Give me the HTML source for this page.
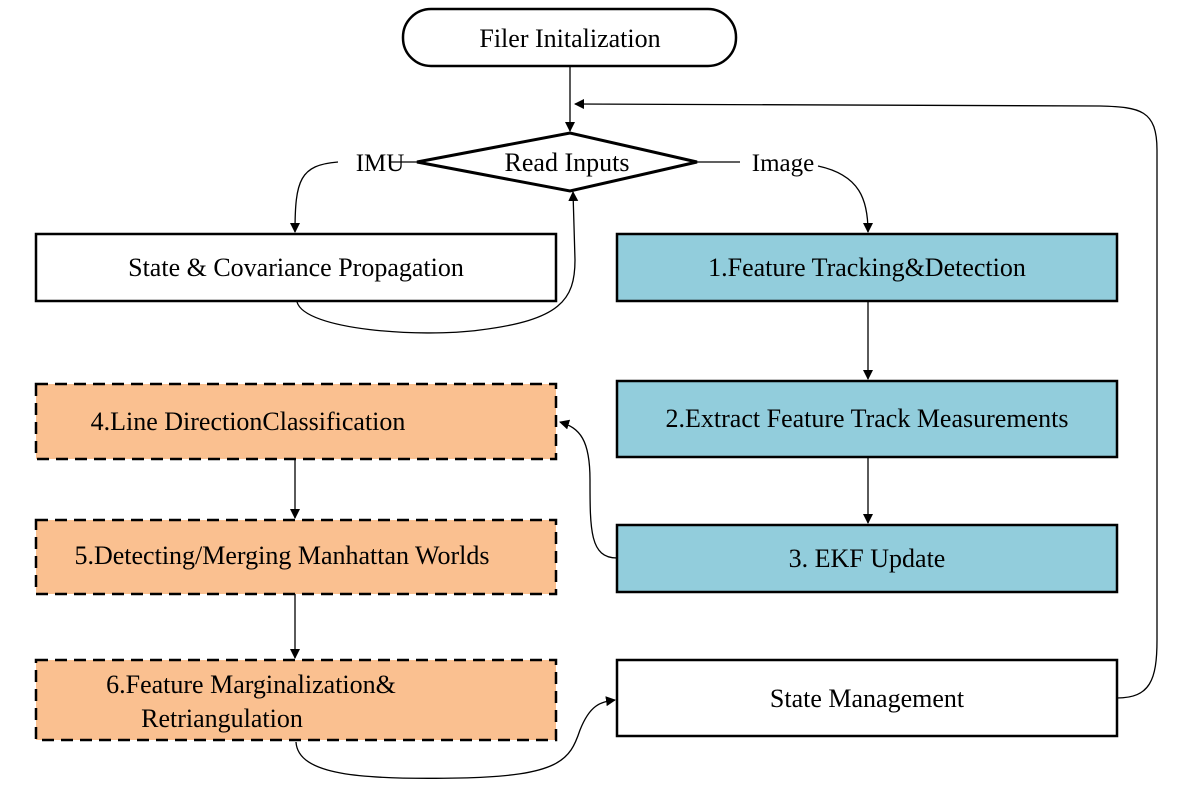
<!DOCTYPE html>
<html><head><meta charset="utf-8"><style>
html,body{margin:0;padding:0;background:#fff;}
svg{display:block;}
text{font-family:"Liberation Serif",serif;font-size:26px;fill:#000;}
</style></head><body>
<svg width="1188" height="789" viewBox="0 0 1188 789" xmlns="http://www.w3.org/2000/svg">
<defs>
<marker id="a" markerWidth="10" markerHeight="10" refX="9" refY="5" orient="auto" markerUnits="userSpaceOnUse" viewBox="0 0 10 10">
<path d="M0,0 L10,5 L0,10 z" fill="#000"/></marker>
</defs>
<g fill="none" stroke="#000" stroke-width="1.3">
<line x1="570" y1="66" x2="570" y2="131" marker-end="url(#a)" />
<path d="M1117,698 C1150,698 1157,680 1157,640 L1157,150 C1157,110 1140,107 1100,106 L575,104" marker-end="url(#a)"/>
<path d="M417,162 L390,162 M338,162 C300,165 295,180 295,232" marker-end="url(#a)"/>
<path d="M697,162 L740,162 M818,166 C860,175 868,200 868,232" marker-end="url(#a)"/>
<path d="M297,302 C305,330 420,338 480,330 C560,320 575,300 575,260 L573,192" marker-end="url(#a)"/>
<line x1="868" y1="301" x2="868" y2="379" marker-end="url(#a)"/>
<line x1="868" y1="457" x2="868" y2="523" marker-end="url(#a)"/>
<path d="M617,558 C590,558 590,530 590,480 C590,440 580,428 560,422" marker-end="url(#a)"/>
<line x1="295" y1="459" x2="295" y2="518" marker-end="url(#a)"/>
<line x1="295" y1="594" x2="295" y2="658" marker-end="url(#a)"/>
<path d="M296,742 C298,775 360,780 460,778 C560,776 570,760 580,730 C590,705 600,702 615,700" marker-end="url(#a)"/>
</g>
<rect x="403" y="9" width="333" height="57" rx="28" fill="#fff" stroke="#000" stroke-width="2.5"/>
<text x="570" y="47" text-anchor="middle">Filer Initalization</text>
<polygon points="417,162 570,133 697,162 570,191" fill="#fff" stroke="#000" stroke-width="3"/>
<text x="567" y="171" text-anchor="middle">Read Inputs</text>
<text x="380" y="171" text-anchor="middle" style="font-size:25px">IMU</text>
<text x="783" y="171" text-anchor="middle" style="font-size:25px">Image</text>
<rect x="36" y="234" width="520" height="67" fill="#fff" stroke="#000" stroke-width="2.5"/>
<text x="296" y="276" text-anchor="middle">State &amp; Covariance Propagation</text>
<g fill="#92CDDC" stroke="#000" stroke-width="2.5">
<rect x="617" y="234" width="500" height="67"/>
<rect x="617" y="381" width="500" height="76"/>
<rect x="617" y="525" width="500" height="67"/>
</g>
<rect x="617" y="660" width="500" height="76" fill="#fff" stroke="#000" stroke-width="2.5"/>
<text x="867" y="276" text-anchor="middle">1.Feature Tracking&amp;Detection</text>
<text x="867" y="427" text-anchor="middle">2.Extract Feature Track Measurements</text>
<text x="867" y="567" text-anchor="middle">3. EKF Update</text>
<text x="867" y="707" text-anchor="middle">State Management</text>
<g fill="#FAC090" stroke="#000" stroke-width="2.5" stroke-dasharray="12,7">
<rect x="36" y="384" width="520" height="75"/>
<rect x="36" y="520" width="520" height="74"/>
<rect x="36" y="660" width="520" height="80"/>
</g>
<text x="248" y="430" text-anchor="middle">4.Line DirectionClassification</text>
<text x="282" y="564" text-anchor="middle">5.Detecting/Merging Manhattan Worlds</text>
<text x="251" y="693" text-anchor="middle">6.Feature Marginalization&amp;</text>
<text x="222" y="727" text-anchor="middle">Retriangulation</text>
</svg>
</body></html>
